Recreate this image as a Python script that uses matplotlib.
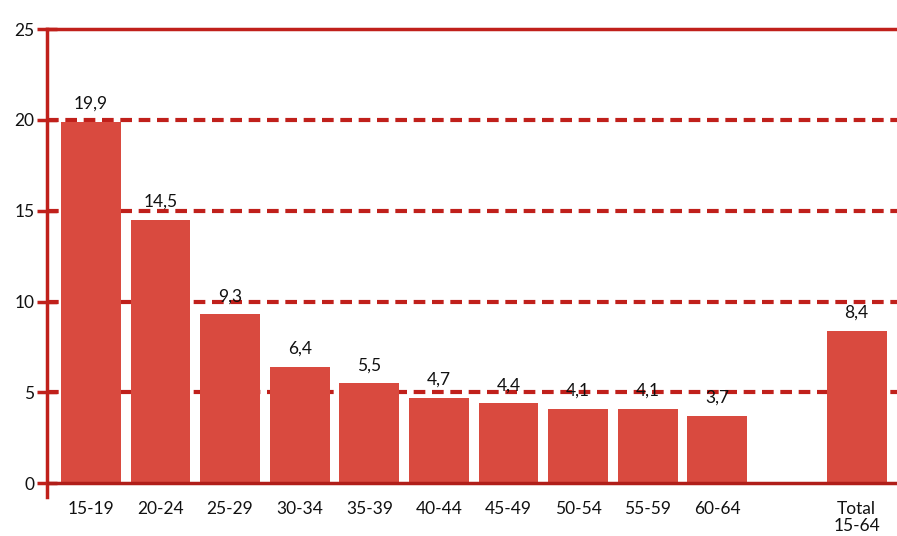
import numpy as np
import matplotlib.pyplot as plt

plt.rcParams['font.family'] = ['Lato', 'DejaVu Sans']

age_groups = ["15-19", "20-24", "25-29", "30-34", "35-39", "40-44",
              "45-49", "50-54", "55-59", "60-64", "Total\n15-64"]
rates = [19.9, 14.5, 9.3, 6.4, 5.5, 4.7, 4.4, 4.1, 4.1, 3.7, 8.4]
positions = [0, 1, 2, 3, 4, 5, 6, 7, 8, 9, 11]
y_ticks = [0, 5, 10, 15, 20, 25]

bar_color = "#d94a3f"
line_color = "#c0201b"

fig = plt.figure(figsize=(8.97, 5.36), dpi=100)
ax = fig.add_axes([0.0524, 0.0728, 0.9476, 0.873])

for y in [5, 10, 15, 20]:
    ax.axhline(y, color=line_color, lw=3, ls=(0, (2.8, 1.6)), zorder=0)
ax.axhline(0, color="#b01e19", lw=2.5, zorder=3)

ax.bar(positions, rates, width=0.86, color=bar_color, zorder=2)

for x, v in zip(positions, rates):
    ax.text(x, v + 0.55, f"{v:.1f}".replace(".", ","), ha="center", va="bottom",
            fontsize=12.5, color="#111111")

ax.set_xlim(-0.63, 11.58)
ax.set_ylim(-0.75, 25)
ax.set_yticks(y_ticks)
ax.set_xticks(positions)
ax.set_xticklabels(age_groups, fontsize=12.5, color="#111111", linespacing=1.05, va="top")
ax.tick_params(axis="x", length=0, pad=3)
ax.tick_params(axis="y", direction="inout", length=14, width=2.5, color=line_color,
               labelsize=12.5, labelcolor="#111111", pad=2)

for s in ["right", "bottom"]:
    ax.spines[s].set_visible(False)
ax.spines["left"].set_color(line_color)
ax.spines["left"].set_linewidth(2.5)
ax.spines["top"].set_color(line_color)
ax.spines["top"].set_linewidth(2.5)

plt.savefig("out.png", dpi=100)
